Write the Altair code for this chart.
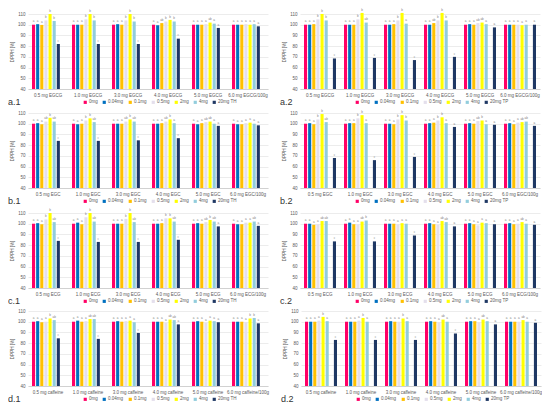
import altair as alt
import pandas as pd

series_base = ["0mg", "0.04mg", "0.1mg", "0.5mg", "2mg", "4mg", "20mg"]
colors = ["#FF0066", "#0070C0", "#FFC000", "#E4DFEC", "#FFFF00", "#92CDDC", "#1F3864"]
doses = ["0.5", "1.0", "3.0", "4.0", "5.0", "6.0"]

# values per dose group: [0mg, 0.04mg, 0.1mg, 0.5mg, 2mg, 4mg, 20mg ref]
a1 = [[100, 100.5, 99.8, 104, 110, 103.5, 82],
      [100, 100, 100, 105, 110, 104, 82],
      [100, 100.5, 100, 104, 110, 103, 82],
      [100, 99.5, 101.5, 103, 104.5, 103, 87],
      [100, 100, 100, 100.5, 102, 101, 97],
      [100, 100, 100, 100.5, 100, 100.5, 98.5]]
a2 = [[100, 100, 100.5, 105, 110, 104, 68.5],
      [100, 100, 100, 105, 111, 102, 69],
      [100, 100, 100.5, 104, 111, 101, 67],
      [100, 100, 101.5, 104, 111, 104, 70],
      [100, 100.5, 100, 101.5, 102, 100.5, 97.5],
      [100, 100, 100, 100, 99.5, 100, 100]]
b1 = [[100, 100.5, 99.5, 102, 105.5, 102, 84],
      [100, 99.5, 100, 103, 105, 101.5, 84],
      [100, 100, 100, 102, 104, 102, 84.5],
      [100, 100, 100.5, 102, 104, 100.5, 86.5],
      [100, 99.5, 100.5, 101.5, 102, 100, 98],
      [100, 99.5, 99.5, 100.5, 101, 100, 98.5]]
b2 = [[100, 100.5, 99.5, 104, 109, 101.5, 68],
      [100, 100.5, 100.5, 105, 108, 100.5, 66],
      [100, 100, 99.5, 104, 108, 103, 69],
      [100, 100.5, 101, 103, 106, 100.5, 97],
      [100, 100.5, 100, 102.5, 103, 99.5, 99],
      [100, 100.5, 99.5, 101, 101.5, 102, 98]]
c1 = [[100, 100.5, 99.5, 104, 110, 101.5, 84],
      [100, 101, 99.5, 106, 110, 102, 83],
      [100, 100, 100, 104.5, 110, 101.5, 83],
      [100, 100, 100.5, 105, 105, 102, 85],
      [100, 100.5, 100, 101.5, 103.5, 102, 97.5],
      [100, 99.5, 99.5, 101, 101, 102, 98]]
c2 = [[100, 100, 99, 99.5, 102.5, 102.5, 83.5],
      [100, 101, 99.5, 99.5, 102, 103, 83.5],
      [100, 100, 100, 99.5, 100.5, 100, 89],
      [100, 100.5, 99.5, 99, 102.5, 101.5, 97.5],
      [100, 100.5, 99.5, 98.5, 101, 100.5, 99.5],
      [100, 100.5, 99.5, 100, 101.5, 100, 99]]
d1 = [[100, 100.5, 99.5, 100, 103, 101.5, 84.5],
      [100, 101, 100, 100.5, 102.5, 102.5, 84],
      [100, 100.5, 100, 100.5, 101, 99.5, 89.5],
      [100, 100, 100, 99, 102, 101.5, 97.5],
      [100, 100.5, 100, 99, 101, 100.5, 99.5],
      [100, 100, 100, 99.5, 103, 103.5, 98.5]]
d2 = [[100, 100, 100, 101, 104.5, 100.5, 83],
      [100, 100, 100, 101, 103.5, 100, 83],
      [100, 100.5, 100, 100, 103, 100.5, 83],
      [100, 100.5, 100, 99.5, 102, 100, 89],
      [100, 100.5, 100.5, 99.5, 102, 100.5, 97.5],
      [100, 100, 100, 100, 101.5, 100, 99]]
y_ticks = [40, 50, 60, 70, 80, 90, 100, 110]

W = 240
H = 75


def sig(v):
    if v < 95:
        return "c"
    if v >= 103:
        return "b"
    if v > 101:
        return "ab"
    return "a"


def panel(vals, compound, ref, label):
    cats = [f"{d} mg {compound}" for d in doses[:-1]] + [f"{doses[-1]} mg {compound}/100g"]
    names = series_base[:-1] + [f"{series_base[-1]} {ref}"]
    rows = []
    for ci, c in enumerate(cats):
        for si, s in enumerate(names):
            v = vals[ci][si]
            rows.append({"cat": c, "ser": s, "val": v, "sig": sig(v)})
    df = pd.DataFrame(rows)
    base = alt.Chart(df).encode(
        x=alt.X("cat:N", sort=cats, title=None,
                scale=alt.Scale(paddingInner=0.2, paddingOuter=0.1),
                axis=alt.Axis(labelAngle=0, labelFontSize=4.5, labelColor="#595959",
                              domainColor="#BFBFBF", domainWidth=0.6, ticks=False,
                              labelPadding=3, grid=False)),
        xOffset=alt.XOffset("ser:N", sort=names, scale=alt.Scale(paddingInner=0.25)),
        y=alt.Y("val:Q", scale=alt.Scale(domain=[40, 110], zero=False, nice=False),
                axis=alt.Axis(values=y_ticks, title="DPPH [%]", labelOverlap=False,
                              titleFontSize=4.5, titleFontWeight="normal", titleColor="#595959",
                              titlePadding=3, labelFontSize=4.5, labelColor="#595959",
                              domain=False, ticks=False, labelPadding=3, grid=True,
                              gridColor="#D9D9D9", gridWidth=0.5)),
    )
    bars = base.mark_bar().encode(
        y2=alt.datum(40),
        color=alt.Color("ser:N", sort=names,
                        scale=alt.Scale(domain=names, range=colors),
                        legend=alt.Legend(title=None, orient="none", legendX=55, legendY=H + 11,
                                          direction="horizontal", columns=7, symbolType="square",
                                          symbolSize=10, symbolStrokeWidth=0, labelFontSize=4.5,
                                          labelColor="#595959", columnPadding=4, labelOffset=1.5,
                                          padding=0)),
    )
    text = base.mark_text(fontSize=3, color="#7F7F7F", dy=-1.5, baseline="bottom").encode(
        text="sig:N")
    lab = alt.Chart(pd.DataFrame({"t": [label]})).mark_text(
        align="left", baseline="middle", fontSize=9, color="#333333").encode(
        x=alt.value(-20), y=alt.value(H + 13), text="t:N")
    return alt.layer(bars, text, lab).properties(width=W, height=H)


def row(left, right):
    return alt.hconcat(left, right, spacing=12).resolve_scale(color="independent").resolve_legend(
        color="independent")


rows = [
    row(panel(a1, "EGCG", "TH", "a.1"), panel(a2, "EGCG", "TP", "a.2")),
    row(panel(b1, "EGC", "TH", "b.1"), panel(b2, "EGC", "TP", "b.2")),
    row(panel(c1, "ECG", "TH", "c.1"), panel(c2, "ECG", "TP", "c.2")),
    row(panel(d1, "caffeine", "TH", "d.1"), panel(d2, "caffeine", "TP", "d.2")),
]

chart = alt.vconcat(*rows, spacing=2).resolve_scale(color="independent").resolve_legend(
    color="independent").properties(padding=0).configure(
    font="Liberation Sans").configure_view(strokeWidth=0)

chart.save("out.html", embed_options={"renderer": "svg", "actions": False})
